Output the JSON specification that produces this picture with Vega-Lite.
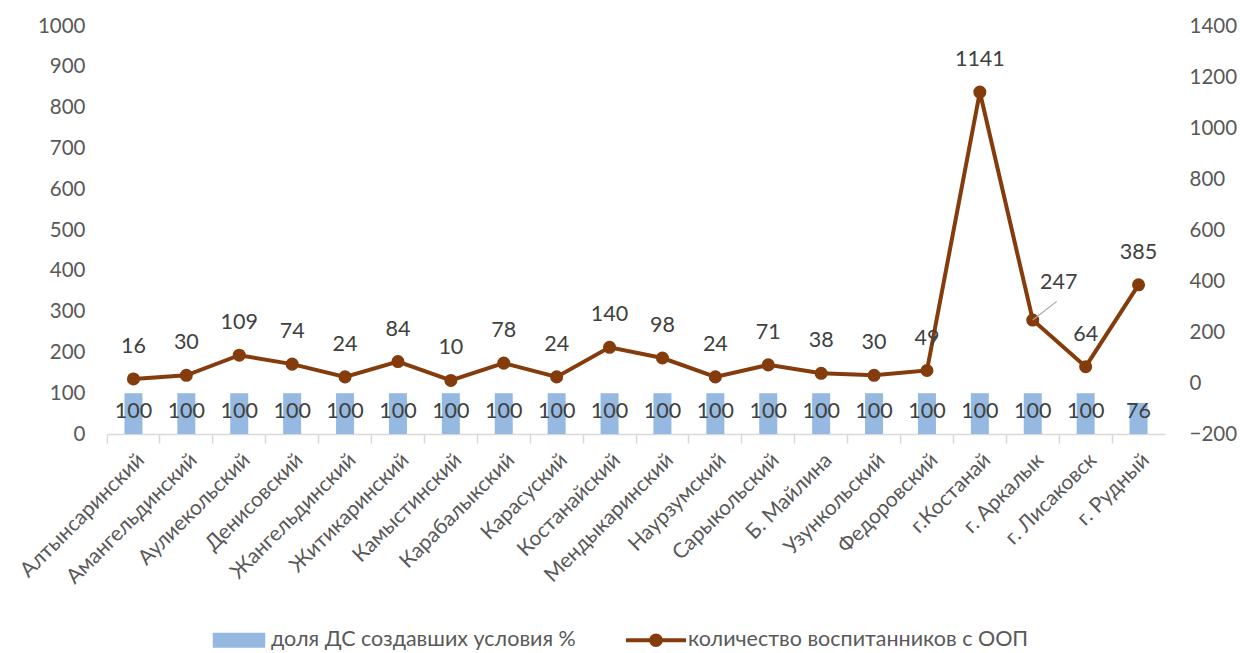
{
  "$schema": "https://vega.github.io/schema/vega-lite/v6.json",
  "width": 1058,
  "height": 408,
  "autosize": "none",
  "padding": {"left": 107, "top": 26, "right": 75, "bottom": 219},
  "background": "white",
  "config": {
    "view": {"stroke": null},
    "font": "Lato, Noto Sans",
    "axis": {"labelFont": "Lato, Noto Sans", "labelColor": "#595959", "labelFontSize": 20.5, "grid": false},
    "legend": {"labelFont": "Lato, Noto Sans", "labelColor": "#595959", "labelFontSize": 21.5, "labelLimit": 0}
  },
  "data": {
    "values": [
      {"район": "Алтынсаринский", "доля": 100, "кол": 16},
      {"район": "Амангельдинский", "доля": 100, "кол": 30},
      {"район": "Аулиекольский", "доля": 100, "кол": 109},
      {"район": "Денисовский", "доля": 100, "кол": 74},
      {"район": "Жангельдинский", "доля": 100, "кол": 24},
      {"район": "Житикаринский", "доля": 100, "кол": 84},
      {"район": "Камыстинский", "доля": 100, "кол": 10},
      {"район": "Карабалыкский", "доля": 100, "кол": 78},
      {"район": "Карасуский", "доля": 100, "кол": 24},
      {"район": "Костанайский", "доля": 100, "кол": 140},
      {"район": "Мендыкаринский", "доля": 100, "кол": 98},
      {"район": "Наурзумский", "доля": 100, "кол": 24},
      {"район": "Сарыкольский", "доля": 100, "кол": 71},
      {"район": "Б. Майлина", "доля": 100, "кол": 38},
      {"район": "Узункольский", "доля": 100, "кол": 30},
      {"район": "Федоровский", "доля": 100, "кол": 49},
      {"район": "г.Костанай", "доля": 100, "кол": 1141},
      {"район": "г. Аркалык", "доля": 100, "кол": 247},
      {"район": "г. Лисаковск", "доля": 100, "кол": 64},
      {"район": "г. Рудный", "доля": 76, "кол": 385}
    ]
  },
  "encoding": {
    "x": {
      "field": "район",
      "type": "nominal",
      "sort": null,
      "title": null,
      "scale": {"paddingInner": 0, "paddingOuter": 0},
      "axis": {
        "labelAngle": -45,
        "labelAlign": "right",
        "labelBaseline": "top",
        "labelPadding": 6,
        "labelFontSize": 21,
        "bandPosition": 0,
        "domainColor": "#d9d9d9",
        "domainWidth": 1.5,
        "tickColor": "#d9d9d9",
        "tickWidth": 1.5,
        "tickSize": 9,
        "labelOverlap": false
      }
    }
  },
  "layer": [
    {
      "layer": [
        {
          "mark": {"type": "bar", "width": 18},
          "encoding": {
            "y": {
              "field": "доля",
              "type": "quantitative",
              "title": null,
              "scale": {"domain": [0, 1000], "nice": false},
              "axis": {"orient": "left", "format": "d", "values": [0, 100, 200, 300, 400, 500, 600, 700, 800, 900, 1000], "domain": false, "ticks": false, "labelPadding": 22}
            },
            "color": {
              "datum": "доля ДС создавших условия %",
              "type": "nominal",
              "scale": {"domain": ["доля ДС создавших условия %", "количество воспитанников с ООП"], "range": ["#95B9E1", "#843C0C"]},
              "legend": {
                "title": null,
                "orient": "none",
                "direction": "horizontal",
                "legendX": 117,
                "legendY": 599,
                "symbolSize": 900,
                "symbolStrokeWidth": 0,
                "labelOffset": 17,
                "columnPadding": 50,
                "encode": {
                  "symbols": {
                    "update": {
                      "shape": {"signal": "datum.value === 'доля ДС создавших условия %' ? 'M-1.75,-0.5H1.75V0.5H-1.75Z' : 'M-2,-0.13H2V0.13H-2Z M0.45,0A0.45,0.45 0 1,1 -0.45,0A0.45,0.45 0 1,1 0.45,0Z'"},
                      "strokeWidth": {"value": 0}
                    }
                  }
                }
              }
            }
          }
        },
        {
          "mark": {"type": "text", "fontSize": 21.5, "color": "#404040", "baseline": "middle"},
          "encoding": {
            "y": {"datum": 55, "type": "quantitative"},
            "text": {"field": "доля", "type": "quantitative"}
          }
        }
      ]
    },
    {
      "layer": [
        {
          "mark": {"type": "line", "color": "#843C0C", "strokeWidth": 4, "point": {"filled": true, "size": 170, "color": "#843C0C"}},
          "encoding": {
            "y": {
              "field": "кол",
              "type": "quantitative",
              "title": null,
              "scale": {"domain": [-200, 1400], "nice": false},
              "axis": {"orient": "right", "format": "d", "values": [-200, 0, 200, 400, 600, 800, 1000, 1200, 1400], "domain": false, "ticks": false, "labelPadding": 24}
            },
            "color": {"datum": "количество воспитанников с ООП", "type": "nominal"}
          }
        },
        {
          "transform": [{"filter": "datum['район'] !== 'г. Аркалык'"}],
          "mark": {"type": "text", "fontSize": 21.5, "color": "#404040", "baseline": "middle", "dy": -32},
          "encoding": {
            "y": {"field": "кол", "type": "quantitative"},
            "text": {"field": "кол", "type": "quantitative"}
          }
        },
        {
          "transform": [{"filter": "datum['район'] === 'г. Аркалык'"}],
          "mark": {"type": "text", "fontSize": 21.5, "color": "#404040", "baseline": "middle", "dx": 26, "dy": -37},
          "encoding": {
            "y": {"field": "кол", "type": "quantitative"},
            "text": {"field": "кол", "type": "quantitative"}
          }
        },
        {
          "transform": [{"filter": "datum['район'] === 'г. Аркалык'"}],
          "mark": {"type": "rule", "color": "#a6a6a6", "strokeWidth": 1.2, "x2Offset": 24},
          "encoding": {
            "x": {"field": "район", "type": "nominal", "sort": null, "bandPosition": 0.5},
            "x2": {"field": "район", "bandPosition": 0.5},
            "y": {"field": "кол", "type": "quantitative"},
            "y2": {"datum": 320}
          }
        }
      ]
    }
  ],
  "resolve": {"scale": {"y": "independent"}}
}
